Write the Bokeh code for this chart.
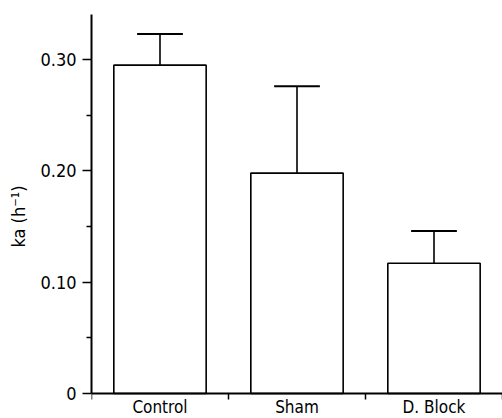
from bokeh.plotting import figure
from bokeh.models import Range1d, FixedTicker, LinearAxis
from bokeh.embed import file_html
from bokeh.resources import INLINE

categories = ["Control", "Sham", "D. Block"]
means = [0.295, 0.198, 0.117]
errors = [0.028, 0.078, 0.029]
y_ticks = [0, 0.10, 0.20, 0.30]
y_tick_labels = ["0", "0.10", "0.20", "0.30"]
y_minor = [0.05, 0.15, 0.25]

FONT = "DejaVu Sans Condensed"

n = len(categories)
xs = [i + 0.5 for i in range(n)]
tops = [m + e for m, e in zip(means, errors)]
cap = 0.167

# layout: y axis top at 14 px, zero line at 393 px, canvas height 418 px
Y_TOP = 0.3405
px_per_unit = (393 - 14) / Y_TOP
y_start = -(418 - 393) / px_per_unit

p = figure(width=502, height=418, output_backend="svg", toolbar_location=None,
           x_range=Range1d(0, n), y_range=Range1d(y_start, Y_TOP),
           x_axis_location=None,
           min_border_left=91, min_border_right=0, min_border_top=14, min_border_bottom=0)
p.outline_line_color = None
p.xgrid.visible = False
p.ygrid.visible = False
p.background_fill_color = "white"
p.border_fill_color = "white"

p.vbar(x=xs, top=means, width=0.674, bottom=0, fill_color="white",
       line_color="black", line_width=1.6)
p.segment(x0=xs, y0=means, x1=xs, y1=tops, line_color="black", line_width=1.6)
p.segment(x0=[x - cap for x in xs], y0=tops, x1=[x + cap for x in xs], y1=tops,
          line_color="black", line_width=2)

# y axis
ya = p.yaxis[0]
ya.bounds = (0, Y_TOP)
ya.ticker = FixedTicker(ticks=y_ticks, minor_ticks=y_minor)
ya.major_label_overrides = {t: l for t, l in zip(y_ticks, y_tick_labels)}
ya.major_tick_out = 9
ya.major_tick_in = 0
ya.minor_tick_out = 5
ya.minor_tick_in = 0
ya.axis_line_width = 2
ya.major_tick_line_width = 1.5
ya.minor_tick_line_width = 1.5
ya.major_label_standoff = 6
ya.major_label_text_font = FONT
ya.major_label_text_font_size = "18px"
ya.major_label_text_color = "black"
ya.axis_label = "ka (h\u207b\u00b9)"
ya.axis_label_text_font = FONT
ya.axis_label_text_font_style = "normal"
ya.axis_label_text_font_size = "18px"
ya.axis_label_text_color = "black"
ya.axis_label_standoff = 8

# x axis drawn at y = 0, ticks at category boundaries, names at centres
xa = LinearAxis(fixed_location=0)
xa.ticker = FixedTicker(ticks=xs, minor_ticks=list(range(n + 1)))
xa.major_label_overrides = {x: c for x, c in zip(xs, categories)}
xa.major_tick_out = 0
xa.major_tick_in = 0
xa.minor_tick_out = 6
xa.minor_tick_in = 0
xa.minor_tick_line_width = 1.5
xa.axis_line_width = 2
xa.major_label_standoff = -3
xa.major_label_text_font = FONT
xa.major_label_text_font_size = "17px"
xa.major_label_text_color = "black"
p.add_layout(xa, "below")

open("out.html", "w").write(file_html(p, INLINE))
